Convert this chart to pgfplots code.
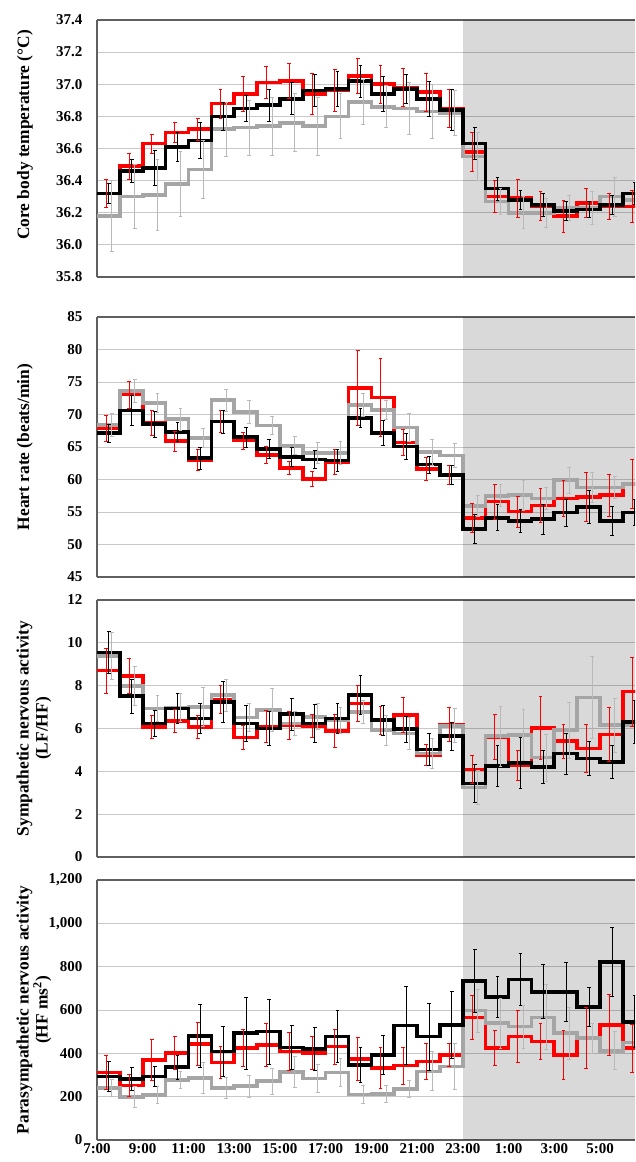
\documentclass[border=0pt]{standalone}
\usepackage{fontspec}
\setmainfont{Liberation Serif}
\usepackage{pgfplots}
\usepackage{pgfplotstable}
\pgfplotsset{compat=1.18}
\definecolor{cred}{RGB}{255,0,0}
\definecolor{cgray}{RGB}{165,165,165}
\definecolor{cgrayerr}{RGB}{185,185,185}
\definecolor{cgrid}{RGB}{200,200,200}
\definecolor{cframe}{RGB}{95,95,95}

% h = hours after 7:00; r/k/g = red/black/gray series; *e = error
\pgfplotstableread{
h r re k ke g ge
0 36.32 0.085 36.32 0.06 36.18 0.22
1 36.49 0.08 36.46 0.07 36.30 0.20
2 36.63 0.06 36.48 0.11 36.31 0.22
3 36.70 0.06 36.61 0.09 36.38 0.20
4 36.72 0.07 36.65 0.11 36.47 0.18
5 36.88 0.09 36.80 0.09 36.72 0.17
6 36.94 0.11 36.85 0.08 36.73 0.17
7 37.01 0.10 36.87 0.10 36.74 0.18
8 37.02 0.11 36.91 0.10 36.76 0.18
9 36.94 0.13 36.96 0.10 36.74 0.18
10 36.96 0.13 36.97 0.11 36.80 0.14
11 37.05 0.11 37.02 0.10 36.89 0.14
12 37.00 0.12 36.94 0.11 36.86 0.13
13 36.98 0.12 36.97 0.09 36.85 0.16
14 36.95 0.12 36.91 0.11 36.83 0.17
15 36.85 0.12 36.84 0.13 36.82 0.14
16 36.58 0.12 36.63 0.10 36.55 0.15
17 36.30 0.10 36.35 0.07 36.27 0.08
18 36.29 0.12 36.28 0.06 36.20 0.10
19 36.24 0.09 36.25 0.07 36.20 0.09
20 36.18 0.10 36.21 0.06 36.23 0.08
21 36.26 0.09 36.22 0.05 36.23 0.10
22 36.24 0.08 36.25 0.06 36.30 0.12
23 36.24 0.10 36.32 0.07 36.28 0.10
24 36.24 0.10 36.32 0.07 36.28 0.10
}\tempdata

\pgfplotstableread{
h r re k ke g ge
0 67.9 2.0 67.15 1.4 68.4 1.8
1 73.05 2.1 70.6 2.3 73.6 1.8
2 68.7 1.9 68.5 2.0 71.8 1.5
3 65.9 1.5 67.3 1.5 69.3 1.7
4 63.0 1.6 63.3 1.7 66.4 1.5
5 68.9 1.7 68.9 1.8 72.2 1.7
6 66.0 1.3 66.5 1.5 70.4 1.7
7 63.8 1.3 64.7 1.5 68.3 1.4
8 61.8 1.0 63.5 1.5 65.2 1.4
9 60.1 1.2 63.1 1.4 64.1 1.6
10 62.7 1.9 62.9 1.7 64.1 1.7
11 74.1 5.7 69.5 1.5 71.5 1.8
12 72.6 6.0 67.2 1.9 70.7 1.5
13 65.7 2.0 65.1 2.0 68.0 2.1
14 61.6 1.8 62.3 1.3 64.2 2.0
15 60.7 1.4 60.7 1.5 63.7 1.8
16 54.1 2.3 52.4 2.3 55.9 1.6
17 56.6 2.7 54.1 2.0 57.5 1.7
18 55.05 2.4 53.6 1.8 57.6 2.3
19 56.0 2.6 53.9 2.3 57.1 1.7
20 57.1 2.8 54.9 2.1 59.9 2.0
21 57.3 3.8 55.8 2.6 58.8 2.3
22 57.6 3.2 53.6 2.2 58.8 1.7
23 59.3 3.8 54.9 2.0 59.3 2.0
24 59.3 3.8 54.9 2.0 59.3 2.0
}\hrdata

\pgfplotstableread{
h r re k ke g ge
0 8.70 1.05 9.55 1.0 9.38 1.1
1 8.46 0.8 7.51 0.8 7.98 0.9
2 6.08 0.55 6.24 0.6 6.94 0.6
3 6.36 0.55 6.94 0.7 6.98 0.65
4 6.08 0.55 6.47 0.7 7.0 0.9
5 7.36 0.65 7.25 0.95 7.56 0.75
6 5.58 0.55 6.24 0.85 6.52 0.65
7 6.08 0.75 6.0 0.8 6.86 1.0
8 6.16 0.65 6.67 0.75 6.24 0.55
9 6.13 0.55 6.24 0.9 6.55 0.6
10 5.89 0.75 6.47 0.7 6.39 0.6
11 7.17 0.85 7.56 0.9 6.78 0.55
12 6.39 0.65 6.39 0.7 5.92 0.7
13 6.63 0.8 5.97 0.6 5.77 0.75
14 4.76 0.5 5.02 0.75 4.83 0.7
15 6.19 0.8 5.64 0.65 6.13 0.8
16 4.08 0.65 3.43 0.9 3.24 0.8
17 5.60 1.05 4.26 0.95 5.64 1.4
18 4.29 0.7 4.40 1.2 5.69 1.2
19 6.03 1.45 4.21 0.75 4.64 1.1
20 5.41 0.8 4.83 0.95 5.92 1.3
21 5.07 1.1 4.60 0.8 7.45 1.9
22 5.72 1.25 4.44 0.75 6.15 1.25
23 7.72 1.6 6.31 1.0 6.15 1.0
24 7.72 1.6 6.31 1.0 6.15 1.0
}\lfdata

\pgfplotstableread{
h r re k ke g ge
0 312 80 294 70 240 40
1 251 50 282 55 199 50
2 370 95 294 45 207 40
3 401 75 337 55 278 40
4 444 100 480 145 286 72
5 358 75 408 115 240 50
6 424 85 493 165 248 50
7 439 100 500 150 271 60
8 408 88 427 100 314 70
9 401 75 419 100 283 65
10 431 80 477 120 312 65
11 375 100 347 80 210 40
12 332 95 393 90 213 40
13 343 85 528 180 236 40
14 363 85 477 155 317 90
15 393 55 531 155 340 105
16 566 100 734 145 597 100
17 424 80 661 95 539 115
18 477 120 740 120 523 100
19 454 82 684 125 566 150
20 393 115 684 135 493 120
21 470 140 615 90 470 70
22 531 140 822 157 412 87
23 424 110 546 120 450 80
24 424 110 546 120 450 80
}\hfdata

\pgfplotsset{
  panel/.style={
    scale only axis, width=538pt, xmin=0, xmax=23.53,
    axis x line*=box, axis y line*=left,
    axis line style={draw=cframe, line width=1.2pt, -},
    ymajorgrids, grid style={draw=cgrid, line width=0.9pt},
    major tick length=0pt,
    xtick={0,2,...,22}, xticklabels={},
    tick label style={font=\bfseries\fontsize{15}{17}\selectfont},
    /pgf/number format/assume math mode=true,
    yticklabel style={xshift=-11pt},
    scaled y ticks=false,
    ylabel style={font=\bfseries\fontsize{17.4}{19}\selectfont, align=center, anchor=center},
  },
  stp/.style={const plot, no marks, line width=3.6pt, forget plot},
}

% error bars in colour #1 from table #2, column #3 with error #4, offset #5
\newcommand{\ebars}[5]{%
  \addplot[forget plot, draw=none, mark=none,
    error bars/.cd, y dir=both, y explicit,
    error bar style={draw=#1, line width=0.8pt},
    error mark options={draw=#1, rotate=90, mark size=1.9pt, line width=0.8pt}]
    table[x expr=\thisrow{h}+#5, y=#3, y error=#4] {#2};
}

% draws one panel's series from table #1, shading between #2 and #3
\newcommand{\series}[3]{%
  \addplot[fill=black, fill opacity=0.15, draw=none, forget plot]
    coordinates {(16,#2) (24,#2) (24,#3) (16,#3)} -- cycle;
  \addplot[stp, draw=cred] table[x=h, y=r] {#1};
  \addplot[stp, draw=cgray] table[x=h, y=g] {#1};
  \addplot[stp, draw=black] table[x=h, y=k] {#1};
  \ebars{cgrayerr}{#1}{g}{ge}{0.65}
  \ebars{cred}{#1}{r}{re}{0.40}
  \ebars{black}{#1}{k}{ke}{0.52}
}

\begin{document}
\begin{tikzpicture}
\useasboundingbox (0pt,0pt) rectangle (635pt,-1162pt);

\begin{axis}[panel, at={(97pt,-277pt)}, anchor=south west, height=257pt,
  ymin=35.8, ymax=37.4, ytick={35.8,36.0,36.2,36.4,36.6,36.8,37.0,37.2,37.4},
  yticklabel style={/pgf/number format/.cd, fixed, fixed zerofill, precision=1},
  ylabel={Core body temperature (°C)},
  ylabel style={at={(axis description cs:-0.134,0.553)}}]
  \series{\tempdata}{35.8}{37.4}
\end{axis}

\begin{axis}[panel, at={(97pt,-577pt)}, anchor=south west, height=260pt,
  ymin=45, ymax=85, ytick={45,50,...,85},
  ylabel={Heart rate (beats/min)},
  ylabel style={at={(axis description cs:-0.134,0.5)}}]
  \series{\hrdata}{45}{85}
\end{axis}

\begin{axis}[panel, at={(97pt,-857pt)}, anchor=south west, height=257pt,
  ymin=0, ymax=12, ytick={0,2,...,12},
  ylabel={Sympathetic nervous activity\\(LF/HF)},
  ylabel style={at={(axis description cs:-0.117,0.5)}}]
  \series{\lfdata}{0}{12}
\end{axis}

\begin{axis}[panel, at={(97pt,-1140pt)}, anchor=south west, height=260pt,
  ymin=0, ymax=1200, ytick={0,200,...,1200},
  yticklabel style={/pgf/number format/.cd, 1000 sep={,}},
  xticklabels={7:00,9:00,11:00,13:00,15:00,17:00,19:00,21:00,23:00,1:00,3:00,5:00},
  ylabel={Parasympathetic nervous activity\\(HF ms\textsuperscript{2})},
  ylabel style={at={(axis description cs:-0.117,0.5)}}]
  \series{\hfdata}{0}{1200}
\end{axis}
\end{tikzpicture}
\end{document}
